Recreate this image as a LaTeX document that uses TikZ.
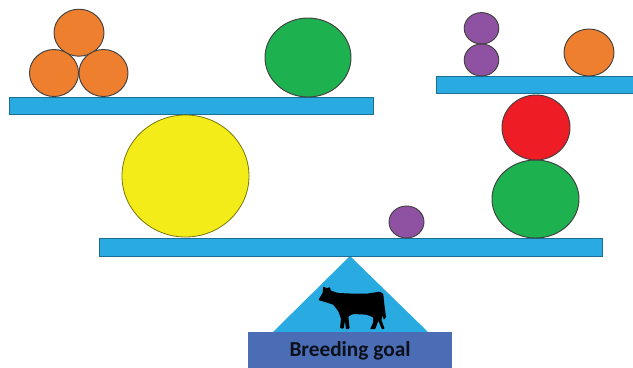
\documentclass[tikz,border=0pt]{standalone}
\usepackage{fontspec}
\setmainfont{Carlito}
\definecolor{barblue}{HTML}{29ABE2}
\definecolor{baseblue}{HTML}{4A6DB5}
\definecolor{orangeb}{HTML}{EE7F2F}
\definecolor{greenb}{HTML}{1EB14F}
\definecolor{yellowb}{HTML}{F3EC19}
\definecolor{purpleb}{HTML}{8F52A3}
\definecolor{redb}{HTML}{EE1C25}
\tikzset{
  ballout/.style={draw=black!75!white,line width=0.7pt},
  barshape/.style={fill=barblue,draw=black!35!barblue,line width=0.5pt},
}
\begin{document}
\begin{tikzpicture}[x=0.75pt,y=-0.75pt]
\useasboundingbox (0,0) rectangle (633,368);
\fill[barblue] (350,256) -- (428,332) -- (273,332) -- cycle;
\fill[baseblue] (248,332) rectangle (452,368);
\draw[barshape] (9,97) rectangle (373,114);
\draw[barshape] (99,238) rectangle (602,256);
\fill[barblue] (436,76) rectangle (633,93);
\draw[black!35!barblue,line width=0.5pt] (633,76) -- (436,76) -- (436,93) -- (633,93);
\draw[ballout,fill=orangeb] (79,32.7) ellipse [x radius=25,y radius=23.5];
\draw[ballout,fill=orangeb] (54,73) ellipse [x radius=24.5,y radius=23.5];
\draw[ballout,fill=orangeb] (103.5,73) ellipse [x radius=24.5,y radius=23.5];
\draw[ballout,fill=greenb] (308,57.5) ellipse [x radius=43,y radius=39.5];
\draw[draw=black!50!yellowb,line width=0.6pt,fill=yellowb] (185.5,176) ellipse [x radius=63.5,y radius=61];
\draw[ballout,fill=purpleb] (406.5,222) ellipse [x radius=17.5,y radius=16];
\draw[ballout,fill=greenb] (535.5,199) ellipse [x radius=43.5,y radius=39];
\draw[ballout,fill=redb] (536,127.5) ellipse [x radius=34,y radius=32.5];
\draw[ballout,fill=purpleb] (481.5,28.3) ellipse [x radius=17.3,y radius=15.7];
\draw[ballout,fill=purpleb] (481.5,60) ellipse [x radius=17.3,y radius=16];
\draw[ballout,fill=orangeb] (589,52.5) ellipse [x radius=25,y radius=23.5];
\begin{scope}[shift={(310,278)},x=0.25pt,y=-0.25pt]
\fill[black,rounded corners=0.6pt] (25,66) -- (38,45) -- (40,25) -- (50,31) -- (60,27) -- (62,38) -- (85,45) -- (130,47) -- (170,47) -- (210,41) -- (220,48) -- (222,70) -- (228,118) -- (221,126) -- (219,112) -- (214,125) -- (224,153) -- (216,154) -- (205,128) -- (196,153) -- (180,153) -- (189,135) -- (190,118) -- (170,110) -- (130,108) -- (115,115) -- (119,152) -- (108,154) -- (105,128) -- (101,152) -- (90,151) -- (93,122) -- (85,100) -- (70,80) -- (45,72) -- cycle;
\end{scope}
\node (goal) at (350,350.5) {\fontsize{16pt}{18pt}\selectfont\bfseries\color{black!85!baseblue}Breeding goal};
\end{tikzpicture}
\end{document}
